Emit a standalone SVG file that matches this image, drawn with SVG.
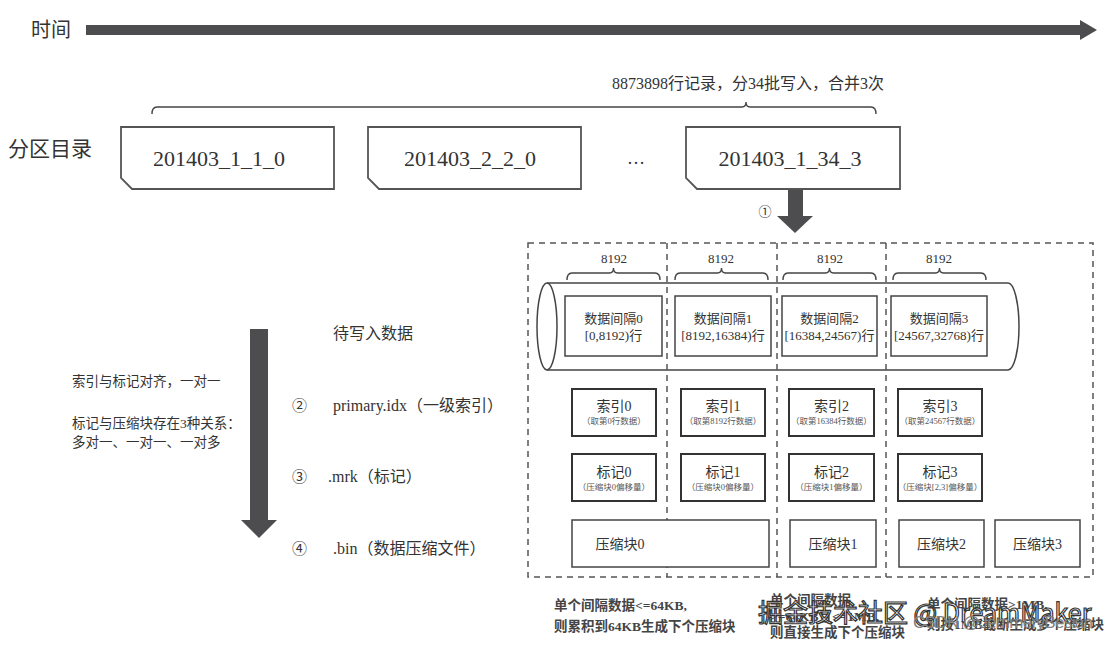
<svg xmlns="http://www.w3.org/2000/svg" width="1111" height="647" viewBox="0 0 1111 647">
<style>
  .serif { font-family: "Liberation Serif", "Noto Sans CJK SC", serif; fill: #333; }
  .sans { font-family: "Noto Sans CJK SC", "Liberation Sans", sans-serif; fill: #333; }
  .part { fill: #fff; stroke: #555; stroke-width: 1.8; }
  .ibox { fill: #fff; stroke: #444; stroke-width: 1.5; }
  .sbox { fill: #fff; stroke: #333; stroke-width: 2; }
  .brace { fill: none; stroke: #444; stroke-width: 1.4; }
  .dash { fill: none; stroke: #555; stroke-width: 1.5; stroke-dasharray: 6 5; }
  .arrow { fill: #4d4d4f; }
  .mid { text-anchor: middle; }
  .cap { font-weight: bold; font-size: 13.5px; fill: #444; }
  .sub { font-size: 8.5px; fill: #555; }
</style>

<g id="time-label">
  <text class="sans" x="31" y="37" font-size="20">时间</text>
</g>

<g id="connectors">
  <rect class="arrow" x="86" y="25" width="996" height="10"/>
  <polygon class="arrow" points="1080,20 1097,30 1080,40"/>
  <rect class="arrow" x="788" y="179" width="15" height="38"/>
  <polygon class="arrow" points="777,216 813,216 795,233"/>
  <rect class="arrow" x="250" y="329" width="18" height="192"/>
  <polygon class="arrow" points="241,520 277,520 259,538"/>
</g>

<g id="batch-caption">
  <text class="serif mid" x="748" y="89" font-size="16">8873898行记录，分34批写入，合并3次</text>
  <path class="brace" d="M152,114 Q152,107 157,107 H742 Q746,107 746,102 Q746,107 750,107 H871 Q876,107 876,114"/>
</g>

<g id="partition-label">
  <text class="sans" x="8" y="156" font-size="21">分区目录</text>
</g>

<g id="part-1">
  <path class="part" d="M121,127 H334 V189 H132 L121,178 Z"/>
  <text class="serif mid" x="219" y="166" font-size="22">201403_1_1_0</text>
</g>
<g id="part-2">
  <path class="part" d="M368,127 H581 V189 H379 L368,178 Z"/>
  <text class="serif mid" x="470" y="166" font-size="22">201403_2_2_0</text>
</g>
<g id="ellipsis">
  <text class="serif mid" x="636" y="164" font-size="18">…</text>
</g>
<g id="part-3">
  <path class="part" d="M686,127 H900 V189 H697 L686,178 Z"/>
  <text class="serif mid" x="790" y="166" font-size="22">201403_1_34_3</text>
</g>
<g id="step-1">
  <text class="serif mid" x="765" y="216" font-size="13" fill="#666">①</text>
</g>

<g id="granule-frame">
  <path d="M547,283 H1008 A11,43.5 0 0 1 1008,370 H547" fill="#fff" stroke="#444" stroke-width="1.5"/>
  <ellipse cx="547" cy="326.5" rx="10" ry="43.5" fill="#fff" stroke="#444" stroke-width="1.5"/>
  <rect class="dash" x="528" y="243" width="565" height="334"/>
  <line class="dash" x1="667" y1="243" x2="667" y2="577"/>
  <line class="dash" x1="777" y1="243" x2="777" y2="577"/>
  <line class="dash" x1="886" y1="243" x2="886" y2="577"/>
</g>

<g id="braces-8192">
  <text class="serif mid" x="614" y="263" font-size="13">8192</text>
  <path class="brace" d="M567,280 Q567,273 572,273 H609.5 Q613.5,273 613.5,268 Q613.5,273 617.5,273 H655 Q660,273 660,280"/>
  <text class="serif mid" x="721" y="263" font-size="13">8192</text>
  <path class="brace" d="M675,280 Q675,273 680,273 H717.5 Q721.5,273 721.5,268 Q721.5,273 725.5,273 H763 Q768,273 768,280"/>
  <text class="serif mid" x="830" y="263" font-size="13">8192</text>
  <path class="brace" d="M783,280 Q783,273 788,273 H825.5 Q829.5,273 829.5,268 Q829.5,273 833.5,273 H871 Q876,273 876,280"/>
  <text class="serif mid" x="939" y="263" font-size="13">8192</text>
  <path class="brace" d="M893,280 Q893,273 898,273 H935.5 Q939.5,273 939.5,268 Q939.5,273 943.5,273 H981 Q986,273 986,280"/>
</g>

<g id="interval-0">
  <rect class="ibox" x="565" y="296" width="97" height="60"/>
  <text class="serif mid" x="613.5" y="323" font-size="13">数据间隔0</text>
  <text class="serif mid" x="613.5" y="340" font-size="13">[0,8192)行</text>
</g>
<g id="interval-1">
  <rect class="ibox" x="675" y="296" width="96" height="60"/>
  <text class="serif mid" x="723" y="323" font-size="13">数据间隔1</text>
  <text class="serif mid" x="723" y="340" font-size="13">[8192,16384)行</text>
</g>
<g id="interval-2">
  <rect class="ibox" x="782" y="296" width="95" height="60"/>
  <text class="serif mid" x="829.5" y="323" font-size="13">数据间隔2</text>
  <text class="serif mid" x="829.5" y="340" font-size="13">[16384,24567)行</text>
</g>
<g id="interval-3">
  <rect class="ibox" x="891" y="296" width="96" height="60"/>
  <text class="serif mid" x="939" y="323" font-size="13">数据间隔3</text>
  <text class="serif mid" x="939" y="340" font-size="13">[24567,32768)行</text>
</g>

<g id="index-0">
  <rect class="sbox" x="572" y="389" width="84" height="47"/>
  <text class="serif mid" x="614" y="411" font-size="14">索引0</text>
  <text class="serif mid sub" x="614" y="424">（取第0行数据）</text>
</g>
<g id="index-1">
  <rect class="sbox" x="681" y="389" width="84" height="47"/>
  <text class="serif mid" x="723" y="411" font-size="14">索引1</text>
  <text class="serif mid sub" x="723" y="424">（取第8192行数据）</text>
</g>
<g id="index-2">
  <rect class="sbox" x="789" y="389" width="85" height="47"/>
  <text class="serif mid" x="831.5" y="411" font-size="14">索引2</text>
  <text class="serif mid sub" x="831.5" y="424">（取第16384行数据）</text>
</g>
<g id="index-3">
  <rect class="sbox" x="898" y="389" width="84" height="47"/>
  <text class="serif mid" x="940" y="411" font-size="14">索引3</text>
  <text class="serif mid sub" x="940" y="424">（取第24567行数据）</text>
</g>

<g id="mark-0">
  <rect class="sbox" x="572" y="454" width="84" height="47"/>
  <text class="serif mid" x="614" y="477" font-size="14">标记0</text>
  <text class="serif mid sub" x="614" y="490">（压缩块0偏移量）</text>
</g>
<g id="mark-1">
  <rect class="sbox" x="681" y="454" width="84" height="47"/>
  <text class="serif mid" x="723" y="477" font-size="14">标记1</text>
  <text class="serif mid sub" x="723" y="490">（压缩块0偏移量）</text>
</g>
<g id="mark-2">
  <rect class="sbox" x="789" y="454" width="85" height="47"/>
  <text class="serif mid" x="831.5" y="477" font-size="14">标记2</text>
  <text class="serif mid sub" x="831.5" y="490">（压缩块1偏移量）</text>
</g>
<g id="mark-3">
  <rect class="sbox" x="898" y="454" width="84" height="47"/>
  <text class="serif mid" x="940" y="477" font-size="14">标记3</text>
  <text class="serif mid sub" x="940" y="490">（压缩块[2,3]偏移量）</text>
</g>

<g id="block-0">
  <rect class="ibox" x="572" y="520" width="197" height="47"/>
  <text class="serif mid" x="620" y="549" font-size="14">压缩块0</text>
</g>
<g id="block-1">
  <rect class="ibox" x="790" y="520" width="86" height="47"/>
  <text class="serif mid" x="833" y="549" font-size="14">压缩块1</text>
</g>
<g id="block-2">
  <rect class="ibox" x="899" y="520" width="85" height="47"/>
  <text class="serif mid" x="941.5" y="549" font-size="14">压缩块2</text>
</g>
<g id="block-3">
  <rect class="ibox" x="995" y="520" width="85" height="47"/>
  <text class="serif mid" x="1037.5" y="549" font-size="14">压缩块3</text>
</g>

<g id="steps">
  <text class="serif" x="333" y="339" font-size="16">待写入数据</text>
  <text class="serif" x="292" y="411" font-size="15" fill="#555">②</text>
  <text class="serif" x="333" y="411" font-size="16">primary.idx（一级索引）</text>
  <text class="serif" x="292" y="482" font-size="15" fill="#555">③</text>
  <text class="serif" x="328" y="482" font-size="16">.mrk（标记）</text>
  <text class="serif" x="292" y="554" font-size="15" fill="#555">④</text>
  <text class="serif" x="333" y="554" font-size="16">.bin（数据压缩文件）</text>
</g>

<g id="notes">
  <text class="serif" x="72" y="386" font-size="13.5">索引与标记对齐，一对一</text>
  <text class="serif" x="72" y="428" font-size="13.5">标记与压缩块存在3种关系：</text>
  <text class="serif" x="72" y="447" font-size="13.5">多对一、一对一、一对多</text>
</g>

<g id="captions">
  <text class="serif cap" x="554" y="610">单个间隔数据&lt;=64KB,</text>
  <text class="serif cap" x="554" y="631">则累积到64KB生成下个压缩块</text>
  <text class="serif cap" x="770" y="605">单个间隔数据</text>
  <text class="serif cap" x="770" y="621">&gt;=64KB且&lt;=1MB,</text>
  <text class="serif cap" x="770" y="637">则直接生成下个压缩块</text>
  <text class="serif cap" x="927" y="609">单个间隔数据&gt;1MB,</text>
  <text class="serif cap" x="927" y="629">则按1MB截断生成多个压缩块</text>
</g>

<g id="watermark">
  <text x="758" y="622" font-family="Noto Sans CJK SC, Liberation Sans, sans-serif" font-size="25" fill="#fff" fill-opacity="0.85" stroke="#333" stroke-width="1.2">掘金技术社区 @ DreamMaker</text>
  <text x="913" y="628" font-family="Liberation Sans, Roboto, sans-serif" font-size="17" fill="#808080" textLength="180">CSDN @JemmeryBesian</text>
</g>
</svg>
